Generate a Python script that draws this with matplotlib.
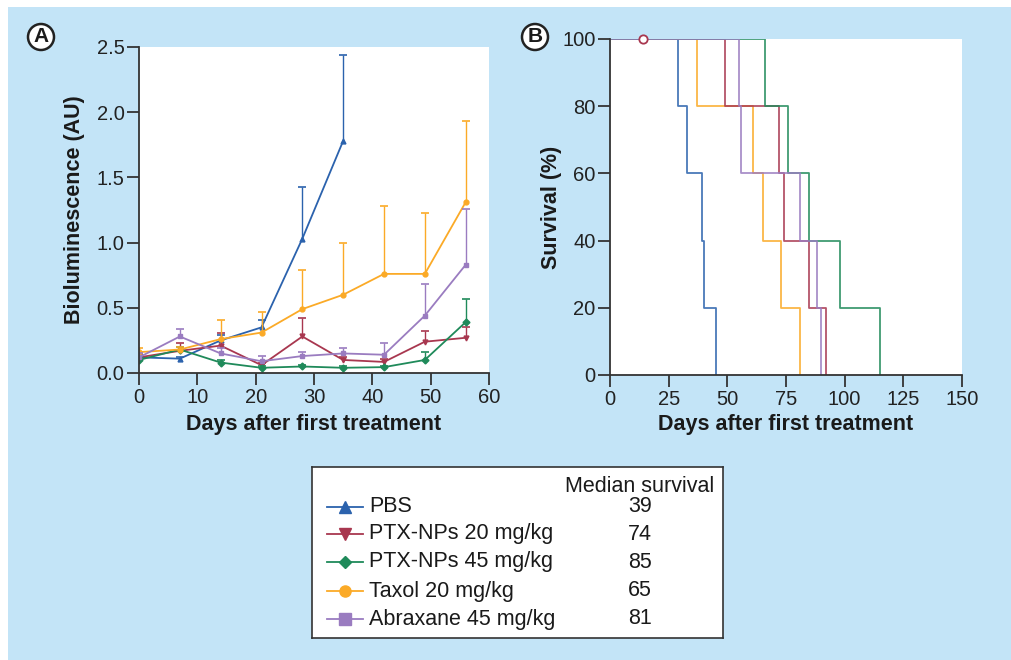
import numpy as np
import matplotlib.pyplot as plt
from matplotlib.patches import Rectangle, Ellipse

plt.rcParams['font.family'] = ['Liberation Sans', 'DejaVu Sans']

# ---- data ----
groups = ['PBS', 'PTX-NPs 20 mg/kg', 'PTX-NPs 45 mg/kg', 'Taxol 20 mg/kg', 'Abraxane 45 mg/kg']
colors = ['#2b62ad', '#a8374f', '#1f8a5a', '#fbaa27', '#9a7cc0']
markers = ['^', 'v', 'D', 'o', 's']
medians = [39, 74, 85, 65, 81]

days_all = [0, 7, 14, 21, 28, 35, 42, 49, 56]
days_pbs = [0, 7, 14, 21, 28, 35]

pbs_mean = [0.12, 0.11, 0.25, 0.35, 1.03, 1.78]
pbs_err = [0.03, 0.01, 0.04, 0.06, 0.40, 0.66]
ptx20_mean = [0.12, 0.17, 0.21, 0.06, 0.28, 0.10, 0.085, 0.24, 0.27]
ptx20_err = [0.02, 0.06, 0.10, 0.02, 0.14, 0.02, 0.02, 0.08, 0.08]
ptx45_mean = [0.10, 0.18, 0.08, 0.04, 0.05, 0.04, 0.045, 0.10, 0.39]
ptx45_err = [0.02, 0.02, 0.02, 0.01, 0.01, 0.01, 0.01, 0.06, 0.18]
taxol_mean = [0.16, 0.18, 0.26, 0.31, 0.49, 0.60, 0.76, 0.76, 1.31]
taxol_err = [0.03, 0.02, 0.15, 0.16, 0.30, 0.40, 0.52, 0.47, 0.62]
abrax_mean = [0.12, 0.28, 0.15, 0.09, 0.13, 0.15, 0.14, 0.44, 0.83]
abrax_err = [0.03, 0.06, 0.04, 0.04, 0.03, 0.04, 0.09, 0.24, 0.43]

# survival steps (day, % surviving)
surv_pct = [100, 80, 60, 40, 20, 0]
pbs_sd = [0, 29, 33, 39, 40, 45]
ptx20_sd = [0, 49, 72, 74, 85, 92]
ptx45_sd = [0, 66, 76, 85, 98, 115]
taxol_sd = [0, 37, 61, 65, 73, 81]
abrax_sd = [0, 55, 56, 81, 88, 90]
censor_day = 14

biolum = [(days_pbs, pbs_mean, pbs_err), (days_all, ptx20_mean, ptx20_err),
          (days_all, ptx45_mean, ptx45_err), (days_all, taxol_mean, taxol_err),
          (days_all, abrax_mean, abrax_err)]
survival = [pbs_sd, ptx20_sd, ptx45_sd, taxol_sd, abrax_sd]

W, H = 1011, 660
fig = plt.figure(figsize=(W / 100, H / 100), dpi=100)
fig.patch.set_facecolor('white')
fig.patches.append(Rectangle((8 / W, 0), 1, 1 - 7 / H, transform=fig.transFigure,
                             facecolor='#c3e4f7', edgecolor='none', zorder=-10))

def px_axes(l, t, r, b):
    return fig.add_axes([l / W, (H - b) / H, (r - l) / W, (b - t) / H])

def style(ax):
    for s in ['top', 'right']:
        ax.spines[s].set_visible(False)
    for s in ['left', 'bottom']:
        ax.spines[s].set_linewidth(1.3)
        ax.spines[s].set_color('#333333')
    ax.tick_params(direction='out', length=8.5, width=1.3, color='#333333',
                   labelsize=14.5, pad=2, labelcolor='#222222')
    ax.set_facecolor('white')

lab_kw = dict(fontsize=15.5, fontweight='bold', color='#1a1a1a')

# ---- panel A ----
axA = px_axes(139, 47, 489, 373)
style(axA)
for (d, m, e), c, mk in zip(biolum, colors, markers):
    d = np.array(d); m = np.array(m); e = np.array(e)
    axA.vlines(d, m, m + e, color=c, lw=1.0)
    axA.plot(d, m + e, '_', color=c, ms=6, mew=1.2)
    axA.plot(d, m, color=c, lw=1.3, marker=mk, ms=3.5)
axA.set_xlim(0, 60)
axA.set_ylim(0, 2.5)
axA.set_xticks(range(0, 61, 10))
axA.set_yticks(np.arange(0, 2.51, 0.5))
axA.set_yticklabels(['%.1f' % v for v in np.arange(0, 2.51, 0.5)])
axA.set_xlabel('Days after first treatment', labelpad=5, **lab_kw)
axA.set_ylabel('Bioluminescence (AU)', labelpad=8, **lab_kw)

# ---- panel B ----
axB = px_axes(610, 39, 962, 375)
style(axB)
order = [0, 3, 1, 2, 4]
for i in order:
    axB.step(survival[i], surv_pct, where='post', color=colors[i], lw=1.3, alpha=0.85)
axB.plot([censor_day], [100], 'o', ms=6, mfc='white', mec=colors[1], mew=1.3, zorder=5,
         clip_on=False)
axB.set_xlim(0, 150)
axB.set_ylim(0, 100)
axB.set_xticks(range(0, 151, 25))
axB.set_yticks(range(0, 101, 20))
axB.set_xlabel('Days after first treatment', labelpad=4, **lab_kw)
axB.set_ylabel('Survival (%)', labelpad=0, **lab_kw)

# panel letters
for cx, cy, lab in [(41, 37, 'A'), (535, 37, 'B')]:
    fig.patches.append(Ellipse((cx / W, (H - cy) / H), 26 / W, 26 / H,
                               transform=fig.transFigure, facecolor='white',
                               edgecolor='#222222', lw=1.8))
    fig.text(cx / W, (H - cy) / H, lab, ha='center', va='center', fontsize=15,
             fontweight='bold', color='#1a1a1a')

# ---- legend box ----
axL = px_axes(312, 467, 723, 638)
axL.set_xlim(0, 411)
axL.set_ylim(171, 0)
axL.set_xticks([]); axL.set_yticks([])
axL.set_facecolor('white')
for s in axL.spines.values():
    s.set_color('#333333'); s.set_linewidth(1.2)
leg_fs = 15.5
axL.text(328, 19, 'Median survival', ha='center', va='center', fontsize=leg_fs,
         color='#1a1a1a')
rows = [40, 67, 95, 124, 152]
for y, g, c, mk, med in zip(rows, groups, colors, markers, medians):
    axL.plot([15, 51], [y, y], color=c, lw=1.3)
    axL.plot([33], [y], marker=mk, color=c, ms=8 if mk != 'D' else 6)
    axL.text(57, y, g, ha='left', va='center', fontsize=leg_fs, color='#1a1a1a')
    axL.text(328, y, str(med), ha='center', va='center', fontsize=leg_fs, color='#1a1a1a')

fig.savefig('out.png', dpi=100)
